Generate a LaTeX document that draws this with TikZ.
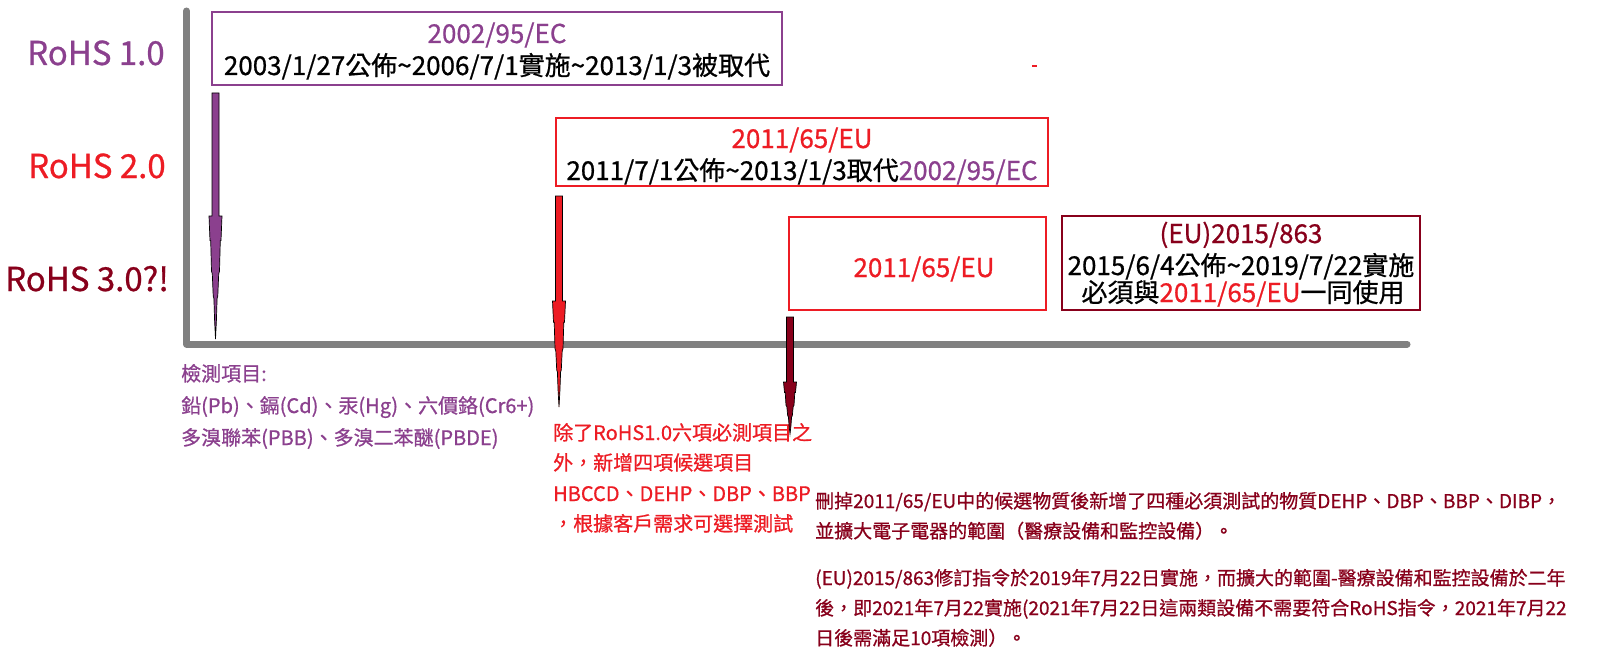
\documentclass[tikz,border=0pt]{standalone}
\usepackage{fontspec}
\setmainfont{Noto Sans CJK TC}[UprightFeatures={FakeBold=0.7}]
\definecolor{rpurple}{RGB}{139,64,142}
\definecolor{rred}{RGB}{237,28,36}
\definecolor{rdark}{RGB}{136,0,27}
\definecolor{raxis}{RGB}{128,128,128}
\newcommand\myfs[1]{\fontsize{#1pt}{#1pt}\selectfont}
% x, top, step, tip, colour
\newcommand\steparrow[5]{%
  \filldraw[fill=#5,draw=black,line width=0.7pt,line join=miter]
  ({#1-3.5},#2) -- ({#1+3.5},#2) -- ({#1+3.5},#3) -- ({#1+6.5},#3)
  -- ({#1+5.5},{#3+0.2*(#4-#3)}) -- ({#1+4.8},{#3+0.2*(#4-#3)})
  -- ({#1+4},{#3+0.45*(#4-#3)}) -- ({#1+3.2},{#3+0.47*(#4-#3)})
  -- ({#1+2.3},{#3+0.65*(#4-#3)}) -- ({#1+1.6},{#3+0.67*(#4-#3)})
  -- ({#1+0.9},{#3+0.85*(#4-#3)}) -- (#1,#4)
  -- ({#1-0.9},{#3+0.85*(#4-#3)}) -- ({#1-1.6},{#3+0.67*(#4-#3)})
  -- ({#1-2.3},{#3+0.65*(#4-#3)}) -- ({#1-3.2},{#3+0.47*(#4-#3)})
  -- ({#1-4},{#3+0.45*(#4-#3)}) -- ({#1-4.8},{#3+0.2*(#4-#3)})
  -- ({#1-5.5},{#3+0.2*(#4-#3)}) -- ({#1-6.5},#3) -- ({#1-3.5},#3) -- cycle;
}
\tikzset{
  lbl/.style={anchor=base west,inner sep=0pt,font=\myfs{33}},
  boxtxt/.style={anchor=base,inner sep=0pt,font=\myfs{26}},
  note/.style={anchor=base west,inner sep=0pt,font=\myfs{20}},
  dnote/.style={anchor=base west,inner sep=0pt,font=\myfs{19}},
  frame/.style={line width=2.8pt}
}
\begin{document}
\begin{tikzpicture}[x=1pt,y=-1pt]
\useasboundingbox (0,0) rectangle (1600,658);
\fill[white] (0,0) rectangle (1600,658);

% axes
\draw[raxis,line width=7pt,line cap=round,line join=round] (186.5,11) -- (186.5,344) -- (1407,344);

% left labels
\node[lbl,text=rpurple] (l1) at (27,65) {RoHS 1.0};
\node[lbl,text=rred] (l2) at (28,178) {RoHS 2.0};
\node[lbl,text=rdark] (l3) at (5,291) {RoHS 3.0?!};

% boxes
\draw[frame,rpurple] (212,12) rectangle (782,85);
\node[boxtxt,text=rpurple] (b1a) at (497,43) {2002/95/EC};
\node[boxtxt,text=black] (b1b) at (497,75) {2003/1/27公佈\textasciitilde 2006/7/1實施\textasciitilde 2013/1/3被取代};

\draw[frame,rred] (556,118) rectangle (1048,186);
\node[boxtxt,text=rred] (b2a) at (802,148) {2011/65/EU};
\node[boxtxt,text=black] (b2b) at (802,180) {2011/7/1公佈\textasciitilde 2013/1/3取代{\color{rpurple}2002/95/EC}};

\draw[frame,rred] (789,217) rectangle (1046,310);
\node[boxtxt,text=rred] (b3a) at (924,277) {2011/65/EU};

\draw[frame,rdark] (1062,216) rectangle (1420,310);
\node[boxtxt,text=rdark] (b4a) at (1241,243) {(EU)2015/863};
\node[boxtxt,text=black] (b4b) at (1241,275) {2015/6/4公佈\textasciitilde 2019/7/22實施};
\node[boxtxt,text=black] (b4c) at (1243,302) {必須與{\color{rred}2011/65/EU}一同使用};

% small mark
\draw[rred,line width=1.2pt] (1032,66) -- (1037,66);

% notes
\node[note,text=rpurple] (p1) at (181,381) {檢測項目:};
\node[note,text=rpurple] (p2) at (181,413) {鉛(Pb)、鎘(Cd)、汞(Hg)、六價鉻(Cr6+)};
\node[note,text=rpurple] (p3) at (181,445) {多溴聯苯(PBB)、多溴二苯醚(PBDE)};

\node[note,text=rred] (r1) at (553,440) {除了RoHS1.0六項必測項目之};
\node[note,text=rred] (r2) at (553,470) {外，新增四項候選項目};
\node[note,text=rred] (r3) at (553,501) {HBCCD、DEHP、DBP、BBP};
\node[note,text=rred] (r4) at (553,531) {，根據客戶需求可選擇測試};

\node[dnote,text=rdark] (d1) at (815,508) {刪掉2011/65/EU中的候選物質後新增了四種必須測試的物質DEHP、DBP、BBP、DIBP，};
\node[dnote,text=rdark] (d2) at (815,538) {並擴大電子電器的範圍（醫療設備和監控設備）。};
\node[dnote,text=rdark] (d3) at (815,585) {(EU)2015/863修訂指令於2019年7月22日實施，而擴大的範圍-醫療設備和監控設備於二年};
\node[dnote,text=rdark] (d4) at (815,615) {後，即2021年7月22實施(2021年7月22日這兩類設備不需要符合RoHS指令，2021年7月22};
\node[dnote,text=rdark] (d5) at (815,645) {日後需滿足10項檢測）。};

% arrows
\steparrow{215.5}{93}{216}{339}{rpurple}
\steparrow{559}{196}{301}{407}{rred}
\steparrow{790}{317}{382}{434}{rdark}
\end{tikzpicture}
\end{document}
